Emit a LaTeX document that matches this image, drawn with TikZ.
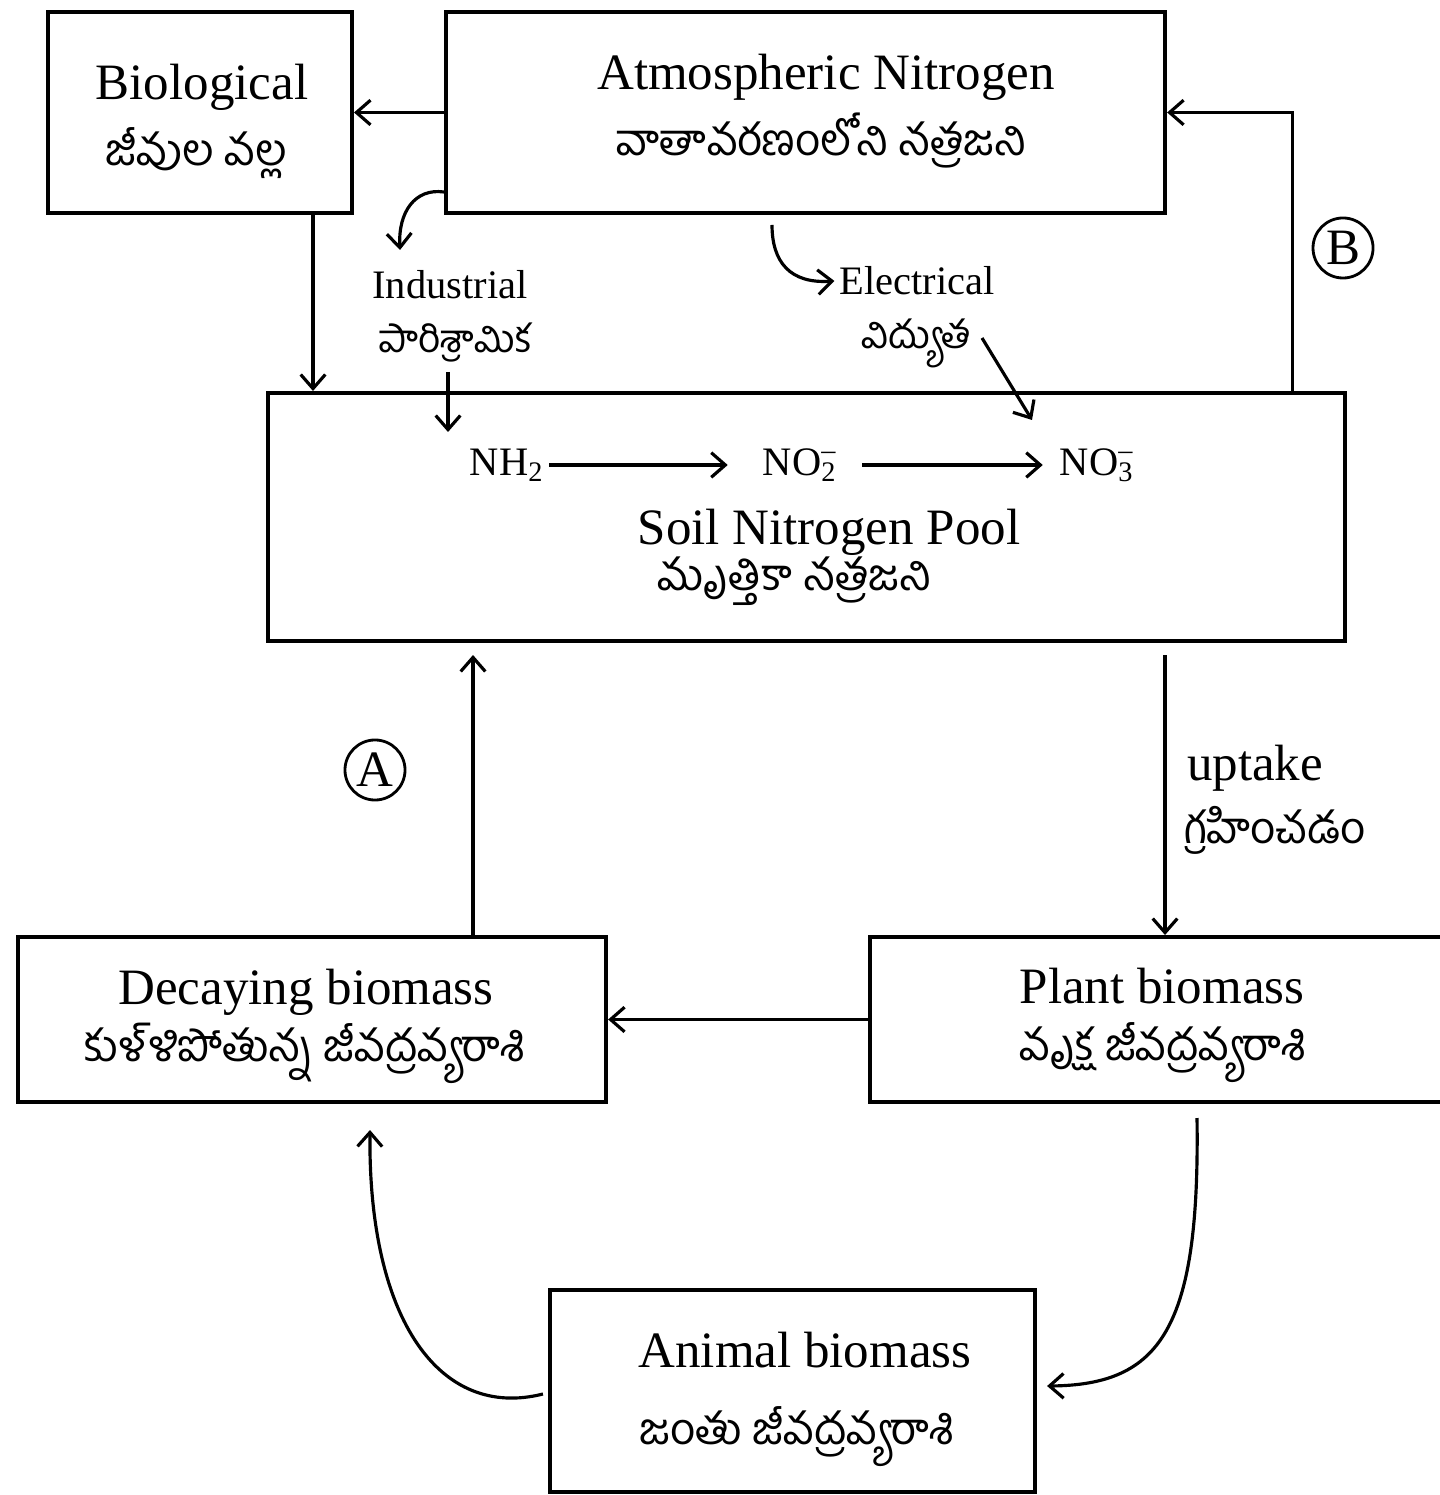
\documentclass[tikz,border=0pt]{standalone}
\usepackage{fontspec}
\setmainfont{Liberation Serif}
\newfontfamily\telugufont[Script=Telugu]{Hind Guntur}
\usetikzlibrary{arrows.meta, calc}

\newcommand{\telbig}{\fontsize{12.5}{15}\selectfont\telugufont}
\newcommand{\telsmall}{\fontsize{11}{13}\selectfont\telugufont}

\begin{document}
\begin{tikzpicture}[x=0.01cm, y=-0.01cm, line width=0.9pt,
    box/.style={draw, line width=1.1pt, inner sep=0pt},
    txt/.style={inner sep=1pt, font=\fontsize{14.5}{17}\selectfont},
    small/.style={inner sep=1pt, font=\fontsize{11.5}{14}\selectfont},
    circ/.style={draw, circle, line width=0.8pt, minimum size=0.6cm, inner sep=0pt,
        font=\fontsize{14.5}{17}\selectfont},
    arr/.style={-{Straight Barb[length=4pt,width=7pt]}}]
    \useasboundingbox (0,0) rectangle (1439,1495);

    % boxes
    \node[box, minimum width=3.04cm, minimum height=2.01cm] (bio) at (200,112.5) {};
    \node[box, minimum width=7.19cm, minimum height=2.01cm] (atm) at (805.5,112.5) {};
    \node[box, minimum width=10.77cm, minimum height=2.48cm] (soil) at (806.5,517) {};
    \node[box, minimum width=5.88cm, minimum height=1.65cm] (dec) at (312,1019.5) {};
    \node[box, minimum width=5.80cm, minimum height=1.65cm] (plant) at (1160,1019.5) {};
    \node[box, minimum width=4.85cm, minimum height=2.02cm] (ani) at (792.5,1391) {};

    % box texts
    \node[txt] (bioen) at ($(bio)+(2,-25.5)$) {Biological};
    \node[txt] (biote) at ($(bio)+(-4,40.5)$) {\telbig జీవుల వల్ల};
    \node[txt] (atmen) at ($(atm)+(20.5,-35.5)$) {Atmospheric Nitrogen};
    \node[txt] (atmte) at ($(atm)+(15.5,28)$) {\telbig వాతావరణంలోని నత్రజని};
    \node[txt] (soilen) at (829,532) {Soil Nitrogen Pool};
    \node[txt] (soilte) at (794,581) {\telbig మృత్తికా నత్రజని};
    \node[txt] (decen) at ($(dec)+(-6,-27.5)$) {Decaying biomass};
    \node[txt] (decte) at ($(dec)+(-7,33.5)$) {\telbig కుళ్ళిపోతున్న జీవద్రవ్యరాశి};
    \node[txt] (planten) at ($(plant)+(2,-33)$) {Plant biomass};
    \node[txt] (plantte) at ($(plant)+(3,33.5)$) {\telbig వృక్ష జీవద్రవ్యరాశి};
    \node[txt] (anien) at ($(ani)+(12.5,-41)$) {Animal biomass};
    \node[txt] (anite) at ($(ani)+(4.5,46)$) {\telbig జంతు జీవద్రవ్యరాశి};

    % soil pool contents
    \node[small] (nh) at (507,465) {NH\textsubscript{2}};
    \node[small] (notwo) at (800,465) {NO\rlap{\textsuperscript{–}}\textsubscript{2}};
    \node[small] (nothree) at (1097,465) {NO\rlap{\textsuperscript{–}}\textsubscript{3}};
    \draw[arr, shorten >=0.3cm] (nh.east) -- (notwo.west);
    \draw[arr, shorten <=0.2cm, shorten >=0.12cm] (notwo.east) -- (nothree.west);

    % fixation labels
    \node[small] (ind) at (450,285) {Industrial};
    \node[small] (indte) at (455,343) {\telsmall పారిశ్రామిక};
    \node[small] (elec) at (917,281) {Electrical};
    \node[small] (electe) at (916,343) {\telsmall విద్యుత};
    \coordinate (indend) at (448,432);
    \coordinate (elecstart) at (772,225);
    \coordinate (eleccorner) at (982,338);
    \coordinate (elecend) at (1032,420);

    \draw[arr] (bio.south -| 313,0) -- (soil.north -| 313,0);
    \draw[arr] (atm.west) -- (bio.east);
    \draw[arr] ($(atm.south west)+(0,-23)$) .. controls (415,188) and (398,212) .. (400,250);
    \draw[arr] (448,372) -- (indend);
    \draw[arr] (elecstart) .. controls (772,262) and (790,284) .. (elec.west);
    \draw[arr] (eleccorner) -- (elecend);

    % return to atmosphere
    \draw[arr] ($(soil.north east)+(-55,0)$) |- (atm.east);
    \node[circ] (labB) at (1343,248) {B};

    % uptake
    \coordinate (upstart) at (1165,655);
    \draw[arr] (upstart) -- (upstart |- plant.north);
    \node[txt] (up) at (1255,768) {uptake};
    \node[txt] (upte) at (1275,830) {\telbig గ్రహించడం};

    % decay
    \draw[arr] (plant.west) -- (dec.east);
    \coordinate (decstart) at (473,937);
    \coordinate (decend) at (473,655);
    \draw[arr] (decstart) -- (decend);
    \node[circ] (labA) at (375,770) {A};

    % animals
    \coordinate (plantout) at (1197,1118);
    \coordinate (decin) at (370,1130);
    \draw[arr] (plantout) .. controls (1200,1330) and (1160,1385) .. ($(ani.east)+(10,-5)$);
    \draw[arr] ($(ani.west)+(-5,3)$) .. controls (440,1420) and (368,1320) .. (decin);
\end{tikzpicture}
\end{document}
